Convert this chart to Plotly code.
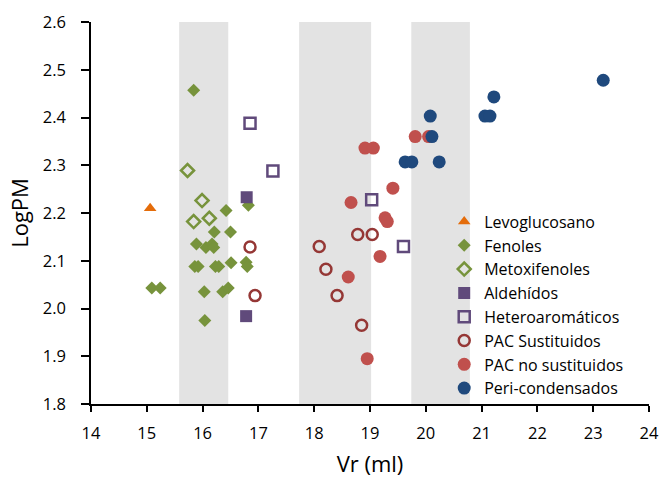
import plotly.graph_objects as go

# Shaded Vr bands
band_start = [15.58, 17.73, 19.74]
band_end = [16.46, 19.02, 20.79]

levo_x = [15.06]
levo_y = [2.210]

fen_x = [15.84, 16.82, 16.42, 16.21, 16.50, 15.89, 16.06, 16.17, 16.20,
         15.86, 15.92, 16.23, 16.29, 16.51, 16.78, 16.80,
         15.09, 15.24, 16.03, 16.36, 16.46, 16.04]
fen_y = [2.457, 2.216, 2.205, 2.160, 2.160, 2.135, 2.128, 2.135, 2.128,
         2.088, 2.088, 2.088, 2.088, 2.096, 2.097, 2.088,
         2.043, 2.043, 2.035, 2.035, 2.043, 1.975]

metox_x = [15.73, 15.99, 15.84, 16.12]
metox_y = [2.289, 2.226, 2.182, 2.189]

ald_x = [16.79, 16.78]
ald_y = [2.233, 1.984]

het_x = [16.85, 17.26, 19.03, 19.60]
het_y = [2.388, 2.288, 2.228, 2.130]

pacs_x = [16.85, 16.94, 18.78, 19.04, 18.09, 18.21, 18.41, 18.85]
pacs_y = [2.129, 2.027, 2.155, 2.155, 2.130, 2.082, 2.027, 1.965]

pacn_x = [19.81, 20.05, 18.91, 19.06, 19.41, 18.66, 19.27, 19.31, 19.18, 18.61, 18.95]
pacn_y = [2.360, 2.360, 2.336, 2.336, 2.252, 2.222, 2.190, 2.182, 2.109, 2.066, 1.895]

peri_x = [20.08, 20.11, 19.63, 19.75, 20.24, 23.18, 21.22, 21.06, 21.15]
peri_y = [2.403, 2.360, 2.307, 2.307, 2.307, 2.478, 2.443, 2.403, 2.403]

FONT = "Open Sans"

fig = go.Figure()

series = [
    ("Levoglucosano", levo_x, levo_y, dict(symbol="triangle-up", size=11, color="#E46C0A")),
    ("Fenoles", fen_x, fen_y, dict(symbol="diamond", size=10, color="#77933C")),
    ("Metoxifenoles", metox_x, metox_y, dict(symbol="diamond-open", size=10, color="#77933C", line=dict(width=2.5, color="#77933C"))),
    ("Aldehídos", ald_x, ald_y, dict(symbol="square", size=12, color="#604A7B")),
    ("Heteroaromáticos", het_x, het_y, dict(symbol="square-open", size=11, color="#604A7B", line=dict(width=2.5, color="#604A7B"))),
    ("PAC Sustituidos", pacs_x, pacs_y, dict(symbol="circle-open", size=11, color="#953735", line=dict(width=2.5, color="#953735"))),
    ("PAC no sustituidos", pacn_x, pacn_y, dict(symbol="circle", size=13, color="#C0504D")),
    ("Peri-condensados", peri_x, peri_y, dict(symbol="circle", size=13, color="#1F497D")),
]
for name, xs, ys, mk in series:
    fig.add_trace(go.Scatter(x=xs, y=ys, mode="markers", name=name, marker=mk))

for a, b in zip(band_start, band_end):
    fig.add_shape(type="rect", xref="x", yref="y", x0=a, x1=b, y0=1.8, y1=2.6,
                  fillcolor="#E3E3E3", line=dict(width=0), layer="below")

fig.update_layout(
    width=662, height=483,
    margin=dict(l=91, r=13, t=22, b=79),
    paper_bgcolor="white", plot_bgcolor="white",
    font=dict(family=FONT, size=16.5, color="black"),
    showlegend=True,
    legend=dict(x=0.633, y=0.522, xanchor="left", yanchor="top",
                bgcolor="rgba(0,0,0,0)", font=dict(size=16, family=FONT),
                itemsizing="trace", tracegroupgap=0),
    xaxis=dict(range=[14, 24], dtick=1, tick0=14, showgrid=False, zeroline=False,
               automargin=False,
               showline=True, linecolor="black", linewidth=1.5,
               ticks="outside", ticklen=6, tickcolor="black", tickwidth=1.5,
               ticklabelstandoff=7,
               title=dict(text="Vr (ml)", font=dict(size=22, family=FONT), standoff=14)),
    yaxis=dict(range=[1.8, 2.6], dtick=0.1, tick0=1.8, tickformat=".1f",
               automargin=False,
               showgrid=False, zeroline=False,
               showline=True, linecolor="black", linewidth=1.5,
               ticks="outside", ticklen=8, tickcolor="black", tickwidth=1.5,
               ticklabelstandoff=12,
               title=dict(text="LogPM", font=dict(size=22, family=FONT), standoff=8)),
)

fig.write_html("out.html")
